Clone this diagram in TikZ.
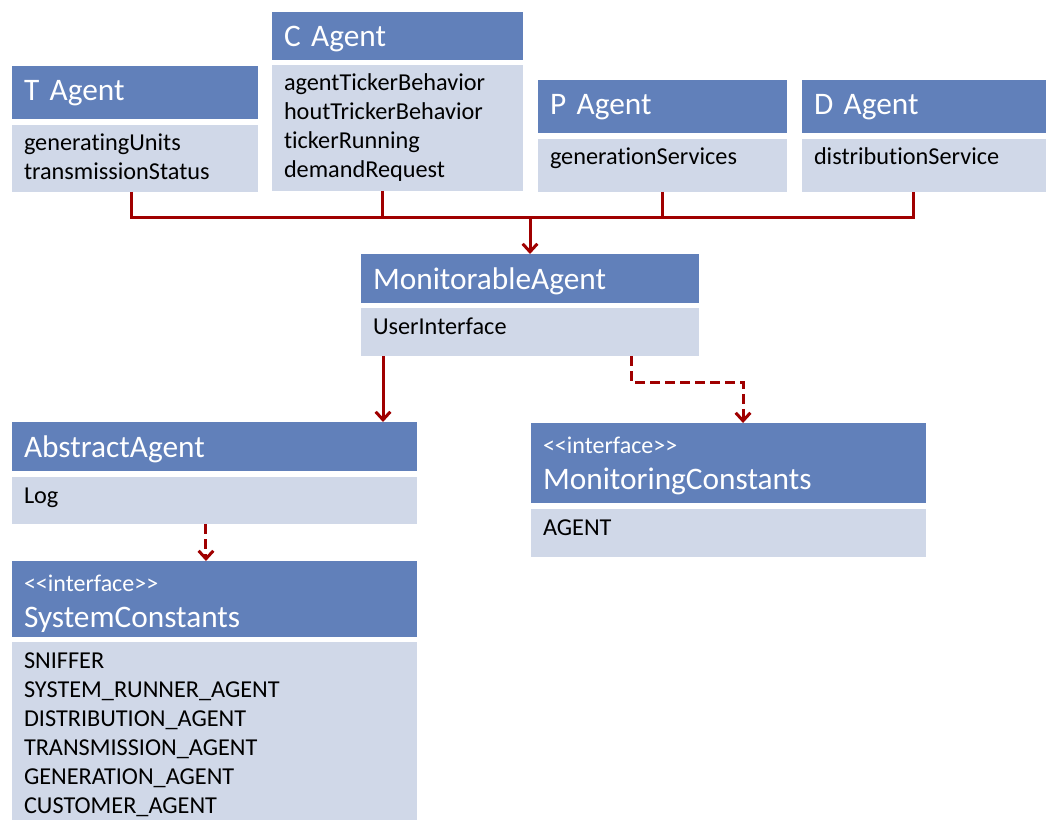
\documentclass[tikz,border=0pt]{standalone}
\usepackage{fontspec}
\setmainfont{Carlito}[Ligatures={TeX,NoCommon}]
\usetikzlibrary{arrows.meta, positioning}
\definecolor{hdrblue}{RGB}{97,128,186}
\definecolor{bdygray}{RGB}{208,216,232}
\definecolor{linkred}{RGB}{160,0,0}
\tikzstyle{hdr} = [rectangle, anchor=north west, fill=hdrblue, text=white, align=left, inner xsep=9pt, inner ysep=0pt, outer sep=0pt, text height=26.25pt, font=\fontsize{23.5}{27}\selectfont]
\tikzstyle{ifhdr} = [hdr, text height=22.5pt]
\tikzstyle{bdy} = [rectangle, fill=bdygray, text=black, align=left, inner xsep=9pt, inner ysep=0pt, outer sep=0pt, text height=19.5pt, font=\fontsize{18.2}{21.75}\selectfont]
\tikzstyle{link} = [line width=2.25pt, draw=linkred]
\tikzstyle{arrow} = [link, -{Straight Barb[length=6pt,width=11pt]}]
\tikzstyle{depends} = [arrow, dash pattern=on 7.5pt off 3.75pt]
\newcommand{\ifc}{{\fontsize{18}{20}\selectfont <\kern0pt<interface>\kern0pt>}}

\begin{document}
\begin{tikzpicture}[x=0.75pt, y=-0.75pt, node distance=4.5pt]
        \useasboundingbox (0,0) rectangle (1046,820);

        % agents on top
        \node (thead) [hdr, text width=166.5pt, text depth=13.5pt] at (12,66) {T Agent};
        \node (tbody) [bdy, text width=166.5pt, text depth=30.75pt, below right=4.5pt and 0pt of thead.south west] {generatingUnits\\transmissionStatus};
        \node (chead) [hdr, text width=170.25pt, text depth=9.75pt] at (272,12) {C Agent};
        \node (cbody) [bdy, text width=170.25pt, text depth=75pt, below right=3.75pt and 0pt of chead.south west] {agentTickerBehavior\\houtTrickerBehavior\\tickerRunning\\demandRequest};
        \node (phead) [hdr, text width=168.75pt, text depth=13.5pt] at (538,80) {P Agent};
        \node (pbody) [bdy, text width=168.75pt, text depth=20.25pt, below right=4.5pt and 0pt of phead.south west] {generationServices};
        \node (dhead) [hdr, text width=165pt, text depth=13.5pt] at (802,80) {D Agent};
        \node (dbody) [bdy, text width=165pt, text depth=20.25pt, below right=4.5pt and 0pt of dhead.south west] {distributionService};

        \node (mhead) [hdr, text width=235.5pt, text depth=10.5pt] at (361,254) {MonitorableAgent};
        \node (mbody) [bdy, text width=235.5pt, text depth=16.5pt, below right=3.75pt and 0pt of mhead.south west] {UserInterface};

        \node (ahead) [hdr, text width=285.75pt, text depth=10.5pt] at (12,422) {AbstractAgent};
        \node (abody) [bdy, text width=285.75pt, text depth=15.75pt, below right=4.5pt and 0pt of ahead.south west] {Log};

        \node (mchead) [ifhdr, text width=278.25pt, text depth=37.5pt] at (531,423) {\ifc\\MonitoringConstants};
        \node (mcbody) [bdy, text width=278.25pt, text depth=16.5pt, below right=4.5pt and 0pt of mchead.south west] {AGENT};

        \node (schead) [ifhdr, text width=285.75pt, text depth=34.5pt] at (12,561) {\ifc\\SystemConstants};
        \node (scbody) [bdy, text width=285.75pt, text depth=114pt, below right=3.75pt and 0pt of schead.south west] {SNIFFER\\SYSTEM\_RUNNER\_AGENT\\DISTRIBUTION\_AGENT\\TRANSMISSION\_AGENT\\GENERATION\_AGENT\\CUSTOMER\_AGENT};

        % connectors
        \coordinate (bus) at (530,218);
        \draw [link] ([xshift=-3pt]tbody.south) |- ([xshift=-8.25pt]dbody.south |- bus) -- ([xshift=-8.25pt]dbody.south);
        \draw [link] ([xshift=-10.9pt]cbody.south) -- ([xshift=-10.9pt]cbody.south |- bus);
        \draw [link] (pbody.south) -- (pbody.south |- bus);
        \draw [arrow] (bus) -- (mhead.north);
        \draw [arrow] ([xshift=16.5pt]mbody.south west) -- ([xshift=16.5pt]mbody.south west |- ahead.north);
        \draw [depends] ([xshift=-51pt]mbody.south east) -- ++(0,26) -| ([xshift=10.9pt]mchead.north);
        \draw [depends] ([xshift=-6.4pt]abody.south) -- ([xshift=-6.4pt]abody.south |- schead.north);
    \end{tikzpicture}
\end{document}
